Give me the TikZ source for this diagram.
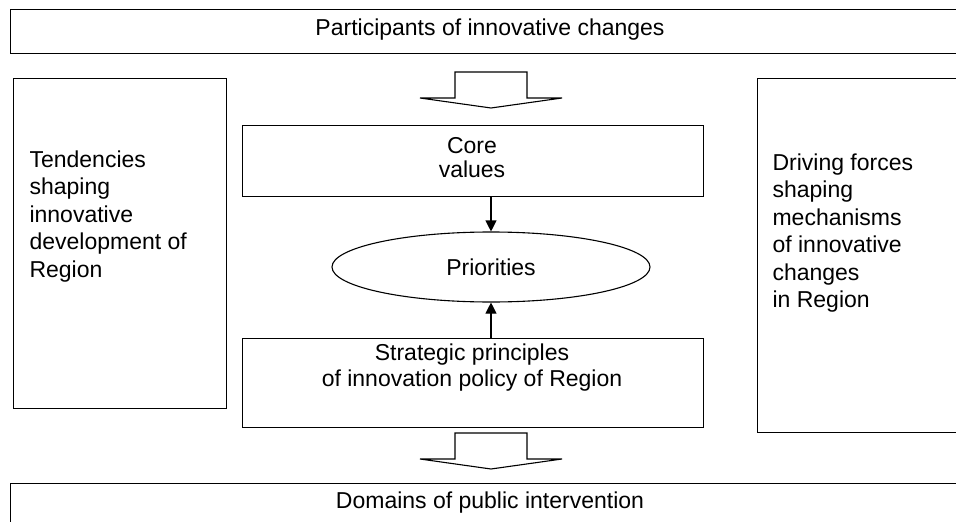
\documentclass[tikz,border=0pt]{standalone}
\usepackage{fontspec}
\setmainfont{Liberation Sans}
\usetikzlibrary{arrows.meta,shapes.geometric}
\begin{document}
\begin{tikzpicture}[x=1pt,y=-1pt,
  line width=1.1pt,
  box/.style={draw, rectangle, inner sep=0pt, anchor=north west},
  txt/.style={inner sep=0pt, font=\fontsize{23}{26}\selectfont},
  sidetxt/.style={inner sep=0pt, align=left, anchor=north west, font=\fontsize{23}{27.5}\selectfont},
  blockarrow/.style={draw, fill=white, line join=miter, line width=1.1pt},
  conn/.style={-{Triangle[width=11pt,length=11pt]}, line width=1.1pt}
]
\useasboundingbox (0,0) rectangle (956,522);
% top and bottom wide boxes
\node[box, minimum width=960pt, minimum height=44pt] (topbox) at (10,9) {};
\node[txt] (toptext) at (490,30) {Participants of innovative changes};
\node[box, minimum width=960pt, minimum height=60pt] (botbox) at (10,483) {};
\node[txt] (bottext) at (490,503) {Domains of public intervention};
% side boxes
\node[box, minimum width=213pt, minimum height=330pt] (leftbox) at (13,78) {};
\node[sidetxt] (lefttext) at (29,150) {Tendencies\\shaping\\innovative\\development of\\Region};
\node[box, minimum width=213pt, minimum height=354pt] (rightbox) at (757,78) {};
\node[sidetxt] (righttext) at (772,153) {Driving forces\\shaping\\mechanisms\\of innovative\\changes\\in Region};
% central boxes
\node[box, minimum width=461pt, minimum height=71pt] (core) at (242,125) {};
\node[txt, align=center, font=\fontsize{23}{24}\selectfont] (coretext) at (472,158) {Core\\values};
\node[draw, ellipse, minimum width=318pt, minimum height=70pt, inner sep=0pt] (prio) at (491,267) {};
\node[txt] (priotext) at (491,267) {Priorities};
\node[box, minimum width=461pt, minimum height=89pt] (strat) at (242,338) {};
\node[txt, align=center, anchor=north] (strattext) at (472,343) {Strategic principles\\of innovation policy of Region};
% connectors
\draw[conn] (core.south -| prio.center) -- (prio.north);
\draw[conn] (strat.north -| prio.center) -- (prio.south);
% block arrows
\draw[blockarrow] (455,72) -- (527,72) -- (527,98) -- (562,98) -- (491,108) -- (420,98) -- (455,98) -- cycle;
\draw[blockarrow] (455,433) -- (527,433) -- (527,459) -- (562,459) -- (491,469) -- (420,459) -- (455,459) -- cycle;
\end{tikzpicture}
\end{document}
